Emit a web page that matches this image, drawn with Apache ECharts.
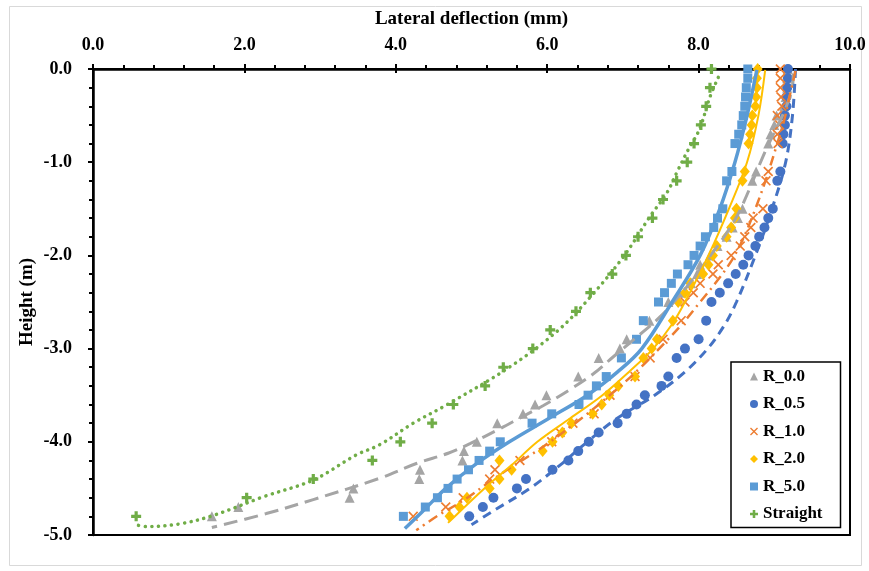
<!DOCTYPE html>
<html><head><meta charset="utf-8">
<script src="https://cdn.jsdelivr.net/npm/echarts@6/dist/echarts.min.js"></script>
<style>html,body{margin:0;padding:0;background:#fff}#c{width:869px;height:571px}</style>
</head><body><div id="c"></div>
<script>
// ---- axis settings ----
const xMin = 0, xMax = 10, xStep = 2;
const yMin = -5, yMax = 0, yStep = 1;
const xTitle = 'Lateral deflection (mm)';
const yTitle = 'Height (m)';
const names = ['R_0.0', 'R_0.5', 'R_1.0', 'R_2.0', 'R_5.0', 'Straight'];

// ---- measured points (height m, deflection mm) ----
const hR00 = [0,-0.1,-0.2,-0.3,-0.4,-0.5,-0.6,-0.7,-0.8,-1.1,-1.2,-1.5,-1.6,-1.7,-1.8,-1.9,-2.0,-2.1,-2.2,-2.3,-2.4,-2.5,-2.7,-2.9,-3.0,-3.1,-3.3,-3.5,-3.6,-3.7,-3.8,-4.0,-4.1,-4.2,-4.3,-4.4,-4.5,-4.6,-4.7,-4.8];
const xR00 = [9.18,9.17,9.17,9.15,9.13,9.03,9.00,8.95,8.92,8.76,8.71,8.58,8.52,8.45,8.37,8.25,8.15,8.02,7.98,7.90,7.75,7.60,7.35,7.05,6.96,6.68,6.41,5.99,5.84,5.68,5.34,5.07,4.90,4.88,4.32,4.31,3.44,3.39,1.92,1.57];

const hR05 = [0,-0.1,-0.2,-0.3,-0.4,-0.5,-0.6,-0.7,-0.8,-1.1,-1.2,-1.5,-1.6,-1.7,-1.8,-1.9,-2.0,-2.1,-2.2,-2.3,-2.4,-2.5,-2.7,-2.9,-3.0,-3.1,-3.3,-3.4,-3.5,-3.6,-3.7,-3.8,-3.9,-4.0,-4.1,-4.2,-4.3,-4.4,-4.5,-4.6,-4.7,-4.8];
const xR05 = [9.18,9.18,9.17,9.16,9.16,9.14,9.14,9.12,9.11,9.08,9.04,8.98,8.92,8.87,8.80,8.75,8.66,8.59,8.49,8.39,8.28,8.17,8.10,8.00,7.82,7.71,7.60,7.51,7.29,7.18,7.05,6.93,6.68,6.55,6.41,6.28,6.07,5.72,5.60,5.29,5.15,4.97];

const hR10 = [0,-0.1,-0.2,-0.3,-0.4,-0.5,-0.6,-0.7,-0.8,-1.1,-1.2,-1.5,-1.6,-1.7,-1.8,-1.9,-2.0,-2.1,-2.2,-2.3,-2.4,-2.5,-2.7,-2.9,-3.1,-3.3,-3.5,-3.7,-3.8,-3.9,-4.0,-4.2,-4.3,-4.4,-4.6,-4.7,-4.8];
const xR10 = [9.08,9.08,9.08,9.09,9.10,9.04,9.07,9.04,9.05,8.92,8.89,8.85,8.72,8.69,8.61,8.55,8.43,8.26,8.19,8.02,7.93,7.82,7.77,7.53,7.36,7.16,6.83,6.62,6.34,6.17,6.06,5.64,5.31,5.24,4.89,4.66,4.23];

const hR20 = [0,-0.1,-0.2,-0.3,-0.4,-0.5,-0.6,-0.7,-0.8,-1.1,-1.2,-1.5,-1.6,-1.7,-1.8,-1.9,-2.0,-2.1,-2.2,-2.3,-2.4,-2.5,-2.7,-2.9,-3.0,-3.1,-3.3,-3.4,-3.5,-3.6,-3.7,-3.8,-3.9,-4.0,-4.1,-4.2,-4.3,-4.4,-4.5,-4.6,-4.7,-4.8];
const xR20 = [8.78,8.77,8.77,8.76,8.75,8.71,8.70,8.68,8.66,8.61,8.58,8.50,8.48,8.43,8.37,8.24,8.19,8.13,8.06,7.89,7.82,7.73,7.66,7.45,7.38,7.27,7.16,6.94,6.82,6.72,6.60,6.32,6.20,6.07,5.94,5.37,5.53,5.37,5.24,4.94,4.84,4.71];

const hR50 = [0,-0.1,-0.2,-0.3,-0.4,-0.5,-0.6,-0.7,-0.8,-1.1,-1.2,-1.5,-1.6,-1.7,-1.8,-1.9,-2.0,-2.1,-2.2,-2.3,-2.4,-2.5,-2.7,-2.9,-3.1,-3.3,-3.4,-3.5,-3.6,-3.7,-3.8,-4.0,-4.1,-4.2,-4.3,-4.4,-4.5,-4.6,-4.7,-4.8];
const xR50 = [8.65,8.65,8.63,8.62,8.61,8.59,8.57,8.53,8.48,8.44,8.37,8.32,8.25,8.20,8.09,8.02,7.94,7.86,7.72,7.64,7.55,7.47,7.27,7.18,6.98,6.78,6.65,6.54,6.42,6.06,5.80,5.38,5.24,5.10,4.96,4.81,4.69,4.55,4.39,4.10];

const hStr = [0,-0.2,-0.4,-0.6,-0.8,-1.0,-1.2,-1.4,-1.6,-1.8,-2.0,-2.2,-2.4,-2.6,-2.8,-3.0,-3.2,-3.4,-3.6,-3.8,-4.0,-4.2,-4.4,-4.6,-4.8];
const xStr = [8.17,8.15,8.10,8.03,7.94,7.85,7.71,7.53,7.39,7.20,7.04,6.86,6.57,6.38,6.04,5.81,5.42,5.18,4.76,4.48,4.06,3.69,2.91,2.03,0.57];

// ---- trendlines (deflection, height) ----
const tR00x = [9.25,9.23,8.85,8.55,8.37,8.15,7.84,7.49,7.09,6.87,6.61,6.30,5.95,5.65,5.35,4.98,4.70,4.28,3.79,2.91,2.29,1.57];
const tR00y = [-0.05,-0.23,-0.94,-1.51,-1.76,-2.01,-2.34,-2.66,-2.94,-3.09,-3.27,-3.44,-3.61,-3.74,-3.87,-4.02,-4.12,-4.23,-4.39,-4.62,-4.77,-4.92];
const tR05x = [9.28,9.24,9.15,8.97,8.75,8.50,8.34,8.12,7.82,7.42,6.92,6.53,6.17,5.77,5.27,5.00];
const tR05y = [0,-0.5,-1.0,-1.5,-2.0,-2.5,-2.75,-3.0,-3.25,-3.5,-3.75,-4.0,-4.25,-4.5,-4.75,-4.89];
const tR10x = [9.28,9.20,9.13,9.02,8.90,8.75,8.60,8.44,8.22,8.02,7.80,7.55,7.25,6.90,6.45,5.95,5.38,4.89,4.56,4.27];
const tR10y = [-0.02,-0.30,-0.55,-0.85,-1.16,-1.50,-1.80,-2.05,-2.30,-2.50,-2.72,-2.94,-3.19,-3.45,-3.75,-4.05,-4.35,-4.63,-4.79,-4.95];
const tR20x = [8.88,8.79,8.64,8.40,8.13,7.82,7.64,7.40,7.08,6.73,6.30,5.87,5.53,5.17,4.69];
const tR20y = [-0.01,-0.5,-1.0,-1.5,-2.0,-2.5,-2.75,-3.0,-3.25,-3.5,-3.75,-4.0,-4.25,-4.5,-4.87];
const tR50x = [8.77,8.64,8.48,8.28,8.02,7.65,7.25,6.93,6.53,6.02,5.50,5.04,4.66,4.35,4.12];
const tR50y = [-0.01,-0.5,-1.0,-1.5,-2.0,-2.5,-3.0,-3.25,-3.5,-3.75,-4.0,-4.25,-4.5,-4.75,-4.93];
const tStrx = [8.26,8.15,8.01,7.86,7.73,7.58,7.36,7.02,6.62,6.15,5.50,4.68,4.23,3.79,3.48,2.91,2.25,1.59,1.15,0.71,0.57];
const tStry = [-0.09,-0.30,-0.65,-0.87,-1.08,-1.33,-1.58,-2.0,-2.4,-2.8,-3.2,-3.6,-3.8,-4.03,-4.14,-4.41,-4.59,-4.79,-4.88,-4.91,-4.89];

const zip = (xs, ys) => xs.map((x, i) => [x, ys[i]]);

const colors = ['#A5A5A5', '#4472C4', '#ED7D31', '#FFC000', '#5B9BD5', '#70AD47'];
const SYM_X = 'path://M1.2,0 L5,3.8 L8.8,0 L10,1.2 L6.2,5 L10,8.8 L8.8,10 L5,6.2 L1.2,10 L0,8.8 L3.8,5 L0,1.2 Z';
const SYM_PLUS = 'path://M3.4,0 H6.6 V3.4 H10 V6.6 H6.6 V10 H3.4 V6.6 H0 V3.4 H3.4 Z';
const symbols = ['triangle', 'circle', SYM_X, 'diamond', 'rect', SYM_PLUS];
const sizes = [10, 10, 10, [10, 12], 9, 10];
const pts = [zip(xR00, hR00), zip(xR05, hR05), zip(xR10, hR10), zip(xR20, hR20), zip(xR50, hR50), zip(xStr, hStr)];
const trends = [zip(tR00x, tR00y), zip(tR05x, tR05y), zip(tR10x, tR10y), zip(tR20x, tR20y), zip(tR50x, tR50y), zip(tStrx, tStry)];
const trendStyles = [
  {width: 3, type: [14, 7]},
  {width: 3, type: [9, 6]},
  {width: 2.5, type: [10, 5, 2, 5]},
  {width: 2, type: 'solid'},
  {width: 3.5, type: 'solid'},
  {width: 3.5, type: [0.1, 6.5], cap: 'round'}
];

const font = 'Liberation Serif';
const series = [];
names.forEach((n, i) => {
  series.push({
    name: n, type: 'scatter', data: pts[i], symbol: symbols[i], symbolSize: sizes[i],
    itemStyle: {color: colors[i], opacity: 1}, z: 2, silent: true
  });
});
names.forEach((n, i) => {
  series.push({
    name: 'trend_' + n, type: 'line', data: trends[i], showSymbol: false, symbol: 'none',
    smooth: 0.35, lineStyle: Object.assign({color: colors[i]}, trendStyles[i]), z: 3, silent: true
  });
});

const fmt = v => Number(v).toFixed(1);
const labelStyle = {fontFamily: font, fontWeight: 'bold', fontSize: 18, color: '#000'};
const titleStyle = {fontFamily: font, fontWeight: 'bold', fontSize: 19, color: '#000'};

const chart = echarts.init(document.getElementById('c'));
chart.setOption({
  animation: false,
  backgroundColor: '#fff',
  grid: {left: 93, right: 19, top: 69, bottom: 36, show: true, borderColor: '#000', borderWidth: 2, backgroundColor: 'transparent'},
  xAxis: [{
    type: 'value', position: 'top', min: xMin, max: xMax, interval: xStep,
    name: xTitle, nameLocation: 'middle', nameGap: 40, nameMoveOverlap: false,
    nameTextStyle: titleStyle,
    axisLine: {show: true, onZero: false, lineStyle: {color: '#000', width: 2.5}},
    axisTick: {show: true, length: 5, lineStyle: {color: '#000', width: 2}},
    minorTick: {show: true, splitNumber: 5, length: 4, lineStyle: {color: '#000', width: 2}},
    splitLine: {show: false},
    axisLabel: Object.assign({formatter: fmt, margin: 15}, labelStyle)
  }, {
    type: 'value', position: 'top', min: xMin, max: xMax, interval: xStep,
    axisLine: {show: false}, axisLabel: {show: false}, splitLine: {show: false},
    axisTick: {show: true, inside: true, length: 4, lineStyle: {color: '#000', width: 2}}
  }],
  yAxis: [{
    type: 'value', min: yMin, max: yMax, interval: yStep,
    name: yTitle, nameLocation: 'middle', nameGap: 56, nameRotate: 90, nameMoveOverlap: false,
    nameTextStyle: titleStyle,
    axisLine: {show: true, onZero: false, lineStyle: {color: '#000', width: 2.5}},
    axisTick: {show: true, length: 5, lineStyle: {color: '#000', width: 2}},
    minorTick: {show: true, splitNumber: 5, length: 4, lineStyle: {color: '#000', width: 2}},
    splitLine: {show: false},
    axisLabel: Object.assign({formatter: fmt, margin: 21}, labelStyle)
  }, {
    type: 'value', min: yMin, max: yMax, interval: yStep,
    axisLine: {show: false}, axisLabel: {show: false}, splitLine: {show: false},
    axisTick: {show: true, inside: true, length: 4, lineStyle: {color: '#000', width: 2}}
  }],
  legend: {
    data: names, orient: 'vertical', left: 731, top: 362,
    backgroundColor: '#fff', borderColor: '#000', borderWidth: 1.5,
    padding: [6, 18, 5, 19], itemGap: 10.5, itemWidth: 8, itemHeight: 8,
    textStyle: {fontFamily: font, fontWeight: 'bold', fontSize: 17, color: '#000'}
  },
  graphic: [{
    type: 'rect', shape: {x: 9.5, y: 6.5, width: 852, height: 559},
    style: {fill: 'none', stroke: '#D9D9D9', lineWidth: 1}, z: -10, silent: true
  }],
  series: series
});
</script>
</body></html>
